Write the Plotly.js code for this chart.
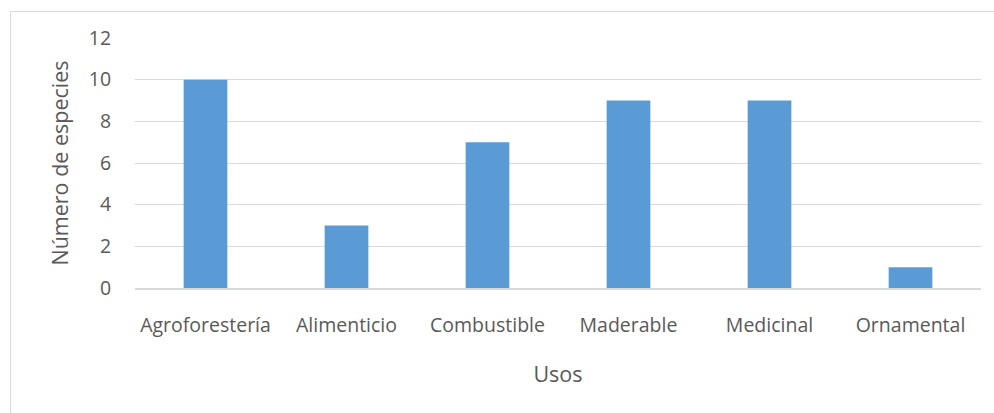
<!DOCTYPE html>
<html><head><meta charset="utf-8">
<script src="https://cdn.plot.ly/plotly-3.0.1.min.js"></script>
<style>html,body{margin:0;padding:0;background:#fff}#chart{width:994px;height:413px}</style>
</head><body><div id="chart"></div>
<script>
const categories = ["Agroforestería","Alimenticio","Combustible","Maderable","Medicinal","Ornamental"];
const values = [10,3,7,9,9,1];
const yTicks = [0,2,4,6,8,10,12];

const L=135,R=13,T=38,B=125,W=994,H=413;
const pw=W-L-R, ph=H-T-B;
const px=x=>(x-L)/pw, py=y=>(H-B-y)/ph;

Plotly.newPlot('chart',[{
  type:'bar', x:categories, y:values,
  marker:{color:'#5B9BD5'}, hoverinfo:'x+y'
}],{
  width:W,height:H,
  margin:{l:L,r:R,t:T,b:B,pad:0},
  paper_bgcolor:'#fff',plot_bgcolor:'#fff',
  font:{family:'"Open Sans", sans-serif',size:19.5,color:'#595959'},
  bargap:0.69,
  showlegend:false,
  xaxis:{
    showgrid:false, showline:true, linecolor:'#d9d9d9', linewidth:2,
    ticks:'outside', ticklen:19, tickcolor:'rgba(0,0,0,0)',
    tickfont:{size:19.5,color:'#595959'},
    title:{text:'Usos',font:{size:21.5,color:'#595959'},standoff:30}
  },
  yaxis:{
    range:[0,12], tickvals:yTicks, showgrid:true, gridcolor:'#d9d9d9', gridwidth:1,
    zeroline:false, showline:false,
    ticks:'outside', ticklen:19, tickcolor:'rgba(0,0,0,0)',
    tickfont:{size:19.5,color:'#595959'},
    title:{text:'Número de especies',font:{size:21.5,color:'#595959'},standoff:14}
  },
  shapes:[{type:'rect',xref:'paper',yref:'paper',x0:px(10.5),x1:px(1005),y0:py(430),y1:py(11.5),
    line:{color:'#d9d9d9',width:1},fillcolor:'rgba(0,0,0,0)',layer:'below'}]
},{displayModeBar:false,staticPlot:true});
</script></body></html>
